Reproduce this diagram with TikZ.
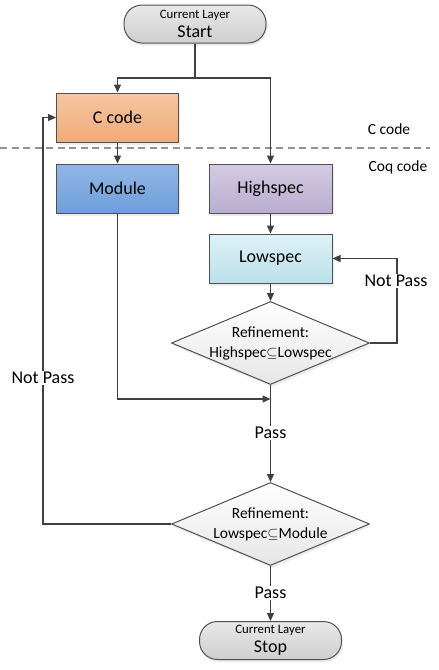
\documentclass[tikz,border=0pt]{standalone}
\usepackage{fontspec}
\setmainfont{Carlito}
\usetikzlibrary{arrows.meta,shapes.geometric,shadows}
\definecolor{linec}{HTML}{404040}
\definecolor{bordc}{HTML}{505050}
\begin{document}
\begin{tikzpicture}[x=1pt,y=-1pt,
  line/.style={draw=linec,line width=1.1pt},
  arrow/.style={line,-{Triangle[length=8pt,width=7pt]}},
  boxbase/.style={rectangle,draw=bordc,line width=1pt,minimum width=122pt,minimum height=49pt,inner sep=0pt,
    font=\fontsize{18}{20}\selectfont,drop shadow={shadow xshift=1.5pt,shadow yshift=-2.5pt,fill=black!14}},
  term/.style={rectangle,rounded corners=18pt,draw=bordc,line width=1pt,minimum width=142pt,minimum height=38pt,inner sep=0pt,
    top color=gray!18,bottom color=gray!38,align=center,font=\fontsize{18}{16}\selectfont,
    drop shadow={shadow xshift=1.5pt,shadow yshift=-2.5pt,fill=black!14}},
  decision/.style={diamond,draw=bordc,line width=1pt,minimum width=198pt,minimum height=83pt,inner sep=0pt,
    top color=white,bottom color=gray!20,
    drop shadow={shadow xshift=1.5pt,shadow yshift=-2.5pt,fill=black!14}},
  dtext/.style={align=center,font=\fontsize{15.5}{20}\selectfont},
  lbl/.style={fill=white,inner sep=1.5pt,font=\fontsize{18}{20}\selectfont},
  side/.style={font=\fontsize{15.5}{18}\selectfont},
]
\useasboundingbox (0,0) rectangle (439,670);
\fill[white] (0,0) rectangle (439,670);

% layers
\draw[draw=gray!85,line width=1.4pt,dash pattern=on 7pt off 4.5pt] (0,148) -- (430,148);
\node[side] (lc) at (389,129) {C code};
\node[side] (lq) at (398,167) {Coq code};

% nodes
\node[term] (start) at (195,24) {{\fontsize{12.8}{14}\selectfont Current Layer}\\[3pt]Start};
\node[boxbase,top color={rgb,255:red,246;green,198;blue,162},bottom color={rgb,255:red,238;green,170;blue,122}] (ccode) at (117.5,117.5) {C code};
\node[boxbase,top color={rgb,255:red,146;green,182;blue,228},bottom color={rgb,255:red,110;green,158;blue,219}] (module) at (117.5,188.5) {Module};
\node[boxbase,minimum width=123pt,top color={rgb,255:red,212;green,203;blue,226},bottom color={rgb,255:red,184;green,173;blue,207}] (high) at (270.5,188.5) {Highspec};
\node[boxbase,minimum width=123pt,top color={rgb,255:red,222;green,241;blue,246},bottom color={rgb,255:red,187;green,224;blue,233}] (low) at (270.5,258.5) {Lowspec};
\node[decision,label={[dtext]center:Refinement:\\Highspec$\subseteq$Lowspec}] (d1) at (270.5,343) {};
\node[decision,label={[dtext]center:Refinement:\\Lowspec$\subseteq$Module}] (d2) at (270.5,524) {};
\node[term] (stop) at (270.5,640.5) {{\fontsize{12.8}{14}\selectfont Current Layer}\\[3pt]Stop};

% coordinates
\coordinate (split) at (195,78);
\coordinate (join) at (270.5,399);
\coordinate (rx) at (397,0);
\coordinate (lx) at (43,0);

% connectors
\draw[line] (start.south) -- (split);
\draw[arrow] (split) -| (ccode.north);
\draw[arrow] (split) -| (high.north);
\draw[arrow] (ccode) -- (module);
\draw[arrow] (high) -- (low);
\draw[arrow] (low) -- (d1);
\draw[arrow] (d1.east) -- (d1.east -| rx) |- (low.east);
\draw[arrow] (module.south) |- (join);
\draw[arrow] (d1.south) -- (d2.north);
\draw[arrow] (d2.west) -- (d2.west -| lx) |- (ccode.west);
\draw[arrow] (d2.south) -- (stop.north);

% labels
\node[lbl] (np1) at (396,281) {Not Pass};
\node[lbl] (p1) at (270.5,433) {Pass};
\node[lbl] (np2) at (43,378) {Not Pass};
\node[lbl] (p2) at (270.5,593) {Pass};
\end{tikzpicture}
\end{document}
